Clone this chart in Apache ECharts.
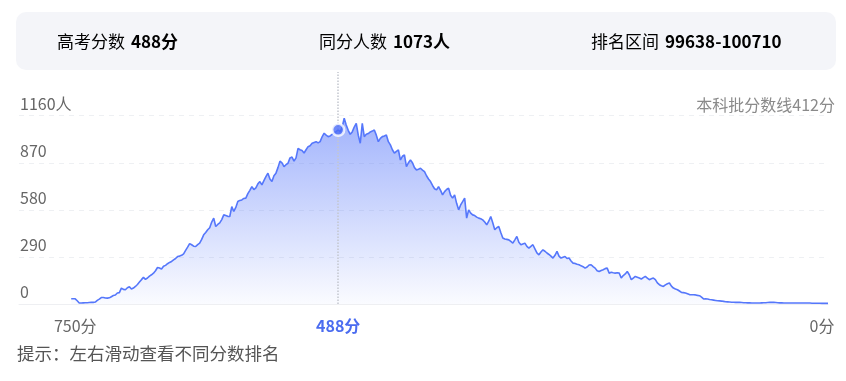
<!DOCTYPE html>
<html><head><meta charset="utf-8">
<script src="https://cdn.jsdelivr.net/npm/echarts@6/dist/echarts.min.js"></script>
<style>html,body{margin:0;padding:0;background:#fff}#c{width:846px;height:381px}</style>
</head><body><div id="c"></div>
<script>
// ---- data ----
const scoreTop = 754;      // first score in the list (descending)
const scoreStep = 2;       // score step between consecutive counts
const counts = [
  32,32,32,20,6,6,7,8,8,9,
  10,10,12,22,30,40,40,37,36,38,
  45,52,55,68,70,98,90,88,100,106,
  92,98,108,120,135,150,164,152,160,172,
  180,190,205,225,222,215,232,238,248,256,
  262,272,280,292,295,300,309,330,350,372,
  365,356,354,366,375,398,426,440,457,470,
  505,529,477,490,500,520,549,545,540,539,
  600,570,595,631,638,641,650,652,680,700,
  723,705,715,740,754,734,760,785,806,770,
  754,790,806,840,880,870,846,858,867,900,
  905,880,900,959,950,945,930,950,969,975,
  990,995,1000,992,1000,1030,1052,1040,1031,1035,
  1045,1055,1062,1073,1060,1090,1144,1103,1070,1045,
  1060,1090,1113,1040,990,1113,1031,1045,1050,1060,
  1065,1072,1040,1000,1020,1031,1035,1041,1000,980,
  950,929,940,949,887,910,918,846,870,887,
  870,840,826,830,836,825,815,790,770,754,
  730,710,703,723,700,672,692,705,713,670,
  652,672,620,580,610,631,652,529,580,560,
  549,545,535,529,525,518,505,488,510,539,
  500,457,470,477,440,406,400,398,395,385,
  375,395,416,380,365,370,375,355,344,355,
  365,340,315,303,320,334,325,314,305,295,
  283,300,324,295,283,288,293,280,283,265,
  252,250,245,242,235,230,221,228,240,242,
  230,221,205,200,206,211,218,221,190,195,
  192,190,192,190,160,175,185,200,180,150,
  160,170,165,160,154,162,170,160,150,155,
  160,150,130,119,112,108,118,125,129,110,
  98,92,88,80,71,70,68,63,58,57,
  57,56,53,51,42,31,32,31,28,26,
  24,22,20,19,18,16,14,13,12,11,
  11,10,10,10,9,8,8,7,7,6,
  6,6,6,6,7,8,8,9,10,10,
  10,9,8,7,7,6,6,6,6,6,
  6,6,6,6,6,6,6,6,6,5,
  5,5,5,5,4,4,4,4
];
const selectedScore = 488;
const selectedCount = 1073;
const rankRange = [99638, 100710];
const cutoffText = '本科批分数线412分';
const yTicks = [0, 290, 580, 870, 1160];
const xTicks = [750, 488, 0];
const tipText = '提示：左右滑动查看不同分数排名';

// ---- chart ----
const FONT = '"Noto Sans CJK SC","Noto Sans",sans-serif';
const seriesData = counts.map((v, i) => [scoreTop - i * scoreStep, v]);
const cardRich = {
  a: { fontSize: 17, color: '#555', fontFamily: FONT },
  b: { fontSize: 17, color: '#2a2a2a', fontWeight: 'bold', fontFamily: FONT, padding: [0, 0, 0, 6] }
};
const chart = echarts.init(document.getElementById('c'));
chart.setOption({
  animation: false,
  backgroundColor: '#fff',
  textStyle: { fontFamily: FONT },
  title: {
    text: cutoffText, right: 11, top: 97, padding: 0,
    textStyle: { fontSize: 16, color: '#8a8a8a', fontWeight: 'normal', fontFamily: FONT }
  },
  grid: { left: 19, right: 18, top: 72, bottom: 77 },
  xAxis: {
    type: 'value', inverse: true, min: 0, max: 806,
    axisLine: { show: true, lineStyle: { color: '#eeeff2', width: 1 } },
    axisTick: { show: false },
    splitLine: { show: false },
    axisLabel: {
      customValues: xTicks, margin: 14, fontSize: 16, color: '#666',
      formatter: v => v === selectedScore ? '{hl|' + v + '分}' : (v === 0 ? '{end|' + v + '分}' : '{n|' + v + '分}'),
      rich: {
        n: { fontSize: 16, color: '#666', fontFamily: FONT },
        end: { fontSize: 16, color: '#666', fontFamily: FONT, padding: [0, 12, 0, 0] },
        hl: { fontSize: 16, color: '#4b6cf0', fontWeight: 'bold', fontFamily: FONT }
      }
    }
  },
  yAxis: {
    type: 'value', min: 0, max: 1429,
    axisLine: { show: false },
    axisTick: { show: false, customValues: yTicks },
    splitLine: { show: true, lineStyle: { color: '#eef0f3', type: [5, 5], width: 1 } },
    axisLabel: {
      customValues: yTicks, inside: true, margin: 1, verticalAlign: 'bottom',
      padding: [0, 0, 4, 0], fontSize: 16, color: '#666',
      formatter: v => v === 1160 ? v + '人' : '' + v
    }
  },
  series: [
    {
      type: 'line', data: seriesData, symbol: 'none', showSymbol: false,
      lineStyle: { color: '#5577fb', width: 1.6 },
      areaStyle: {
        color: new echarts.graphic.LinearGradient(0, 0, 0, 1, [
          { offset: 0, color: 'rgba(88,120,250,0.8)' },
          { offset: 1, color: 'rgba(88,120,250,0.04)' }
        ])
      },
      markLine: {
        silent: true, symbol: 'none', label: { show: false },
        lineStyle: { color: '#c3c6ce', type: 'dotted', width: 1.5 },
        data: [{ xAxis: selectedScore }]
      },
      z: 2
    },
    {
      type: 'scatter', data: [[selectedScore, selectedCount]], symbolSize: 12,
      itemStyle: { color: '#4a6cf7', borderColor: '#fff', borderWidth: 2.5 },
      z: 5
    }
  ],
  graphic: [
    { type: 'rect', z: 10, shape: { x: 16, y: 12, width: 820, height: 58, r: 10 }, style: { fill: '#f4f5f9' } },
    { type: 'text', z: 11, x: 57, y: 42, style: {
        text: '{a|高考分数}{b|' + selectedScore + '分}', verticalAlign: 'middle', rich: cardRich } },
    { type: 'text', z: 11, x: 319, y: 42, style: {
        text: '{a|同分人数}{b|' + selectedCount + '人}', verticalAlign: 'middle', rich: cardRich } },
    { type: 'text', z: 11, x: 591, y: 42, style: {
        text: '{a|排名区间}{b|' + rankRange[0] + '-' + rankRange[1] + '}', verticalAlign: 'middle', rich: cardRich } },
    { type: 'text', z: 11, x: 17, y: 353, style: {
        text: tipText, verticalAlign: 'middle', fontSize: 17.5, fill: '#555', fontFamily: FONT } }
  ]
});
</script></body></html>
